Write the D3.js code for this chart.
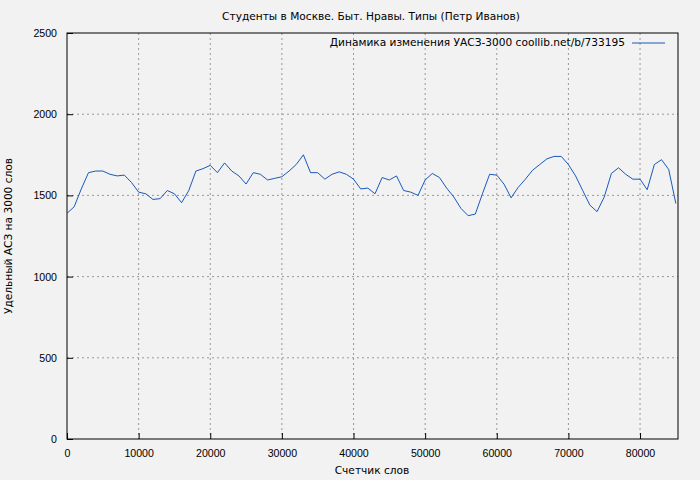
<!DOCTYPE html>
<html><head><meta charset="utf-8">
<script src="https://cdn.jsdelivr.net/npm/d3@7"></script>
<style>body{margin:0;background:#f2f2f2}svg{font-family:"DejaVu Sans",sans-serif}</style>
</head><body>
<svg width="700" height="480"></svg>
<script>
// word counter step is 1000
var counts = d3.range(0, 86000, 1000);
var values = [1390,1430,1540,1640,1650,1650,1630,1620,1625,1580,
	1520,1510,1475,1480,1530,1510,1455,1530,1650,1665,
	1685,1640,1700,1650,1620,1570,1640,1630,1595,1605,
	1615,1650,1690,1750,1640,1640,1600,1630,1645,1630,
	1600,1540,1545,1510,1610,1595,1620,1530,1520,1500,
	1595,1635,1610,1545,1490,1420,1375,1385,1510,1630,
	1625,1570,1485,1550,1600,1655,1690,1725,1740,1740,
	1690,1620,1530,1440,1400,1490,1635,1670,1630,1600,
	1600,1535,1690,1720,1660,1450];
var xTicks = [0,10000,20000,30000,40000,50000,60000,70000,80000];
var yTicks = [0,500,1000,1500,2000,2500];

var svg = d3.select("svg");
var L = 67, R = 678, T = 33, B = 439;
var fs = 10.6;
var x = d3.scaleLinear().domain([0, 85300]).range([L, R]);
var y = d3.scaleLinear().domain([0, 2500]).range([B, T]);

svg.append("rect").attr("width",700).attr("height",480).attr("fill","#f2f2f2");

// grid
svg.append("g").selectAll("line").data(xTicks.slice(1)).join("line")
	.attr("x1", d => x(d)).attr("x2", d => x(d)).attr("y1", T).attr("y2", B)
	.attr("stroke", "#999").attr("stroke-dasharray", "2,3");
svg.append("g").selectAll("line").data(yTicks.slice(1, -1)).join("line")
	.attr("x1", L).attr("x2", R).attr("y1", d => y(d)).attr("y2", d => y(d))
	.attr("stroke", "#999").attr("stroke-dasharray", "2,3");

// axes
var xAxis = d3.axisBottom(x).tickValues(xTicks).tickSizeInner(-6).tickSizeOuter(0).tickPadding(10).tickFormat(d3.format("d"));
svg.append("g").attr("transform", "translate(0," + B + ")").call(xAxis)
	.call(g => g.select(".domain").remove())
	.selectAll("text").attr("font-size", fs).attr("fill", "#000");
var yAxis = d3.axisLeft(y).tickValues(yTicks).tickSizeInner(-6).tickSizeOuter(0).tickPadding(10).tickFormat(d3.format("d"));
svg.append("g").attr("transform", "translate(" + L + ",0)").call(yAxis)
	.call(g => g.select(".domain").remove())
	.selectAll("text").attr("font-size", fs).attr("fill", "#000");

svg.append("rect").attr("x", L).attr("y", T).attr("width", R - L).attr("height", B - T)
	.attr("fill", "none").attr("stroke", "#000");

// line
var line = d3.line().x((d, i) => x(counts[i])).y(d => y(d));
svg.append("path").datum(values).attr("d", line)
	.attr("fill", "none").attr("stroke", "#0047b3").attr("stroke-width", 0.9);

// texts
svg.append("text").attr("x", 371).attr("y", 20).attr("text-anchor", "middle")
	.attr("font-size", fs).text("Студенты в Москве. Быт. Нравы. Типы (Петр Иванов)");
svg.append("text").attr("x", 372).attr("y", 474).attr("text-anchor", "middle")
	.attr("font-size", fs).text("Счетчик слов");
svg.append("text").attr("transform", "translate(12,236) rotate(-90)").attr("text-anchor", "middle")
	.attr("font-size", fs).text("Удельный АСЗ на 3000 слов");
svg.append("text").attr("x", 625).attr("y", 46).attr("text-anchor", "end")
	.attr("font-size", fs).text("Динамика изменения УАСЗ-3000 coollib.net/b/733195");
svg.append("line").attr("x1", 632).attr("x2", 665).attr("y1", 43).attr("y2", 43)
	.attr("stroke", "#0047b3").attr("stroke-width", 0.9);
</script>
</body></html>
